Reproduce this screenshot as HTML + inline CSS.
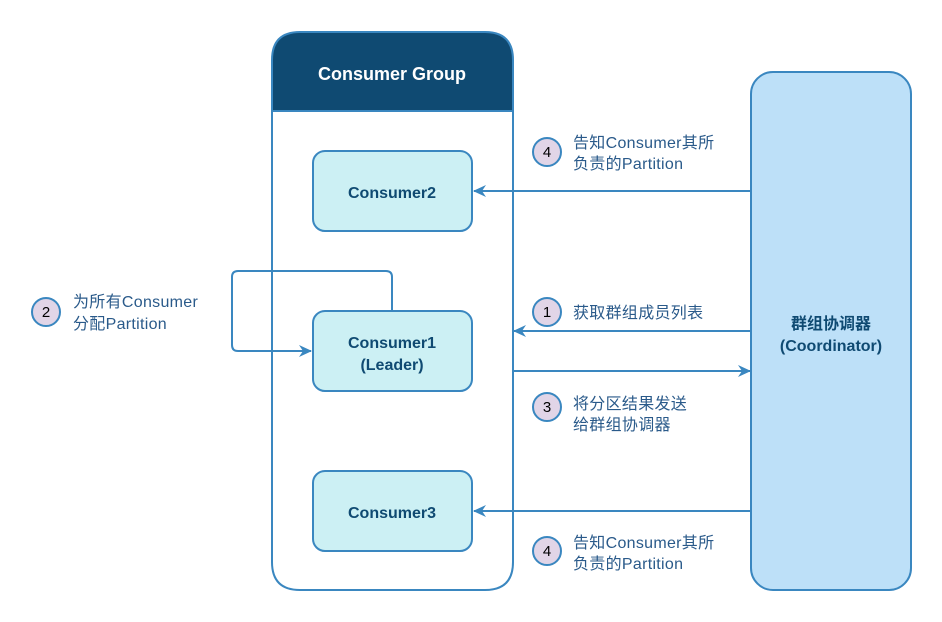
<!DOCTYPE html>
<html><head><meta charset="utf-8"><style>
html,body{margin:0;padding:0;background:#fff;}
svg{display:block;}
text{font-family:"Liberation Sans","Noto Sans CJK SC",sans-serif;}
.n{font-weight:bold;font-size:16px;fill:#0f4a72;text-anchor:middle;}
.l{font-size:16px;fill:#2a5a8a;letter-spacing:0.3px;}
.c{font-size:15px;fill:#000;text-anchor:middle;}
</style></head><body>
<svg width="942" height="622" viewBox="0 0 942 622">
<defs>
<marker id="a" markerWidth="14" markerHeight="12" refX="12" refY="6" orient="auto" markerUnits="userSpaceOnUse">
<path d="M0,0 L13,6 L0,12 L4,6 Z" fill="#3a87c0"/></marker>
</defs>
<path d="M272,111 V60 Q272,32 300,32 H485 Q513,32 513,60 V111 Z" fill="#0f4a72" stroke="#3a87c0" stroke-width="2"/>
<path d="M272,111 H513 V562 Q513,590 485,590 H300 Q272,590 272,562 Z" fill="#fff" stroke="#3a87c0" stroke-width="2"/>
<text x="392" y="80" class="n" style="fill:#fff;font-size:18px">Consumer Group</text>
<rect x="751" y="72" width="160" height="518" rx="22" fill="#bde0f8" stroke="#3a87c0" stroke-width="2"/>
<text x="831" y="329" class="n">群组协调器</text>
<text x="831" y="351" class="n">(Coordinator)</text>
<path d="M392,311 V277 Q392,271 386,271 H238 Q232,271 232,277 V345 Q232,351 238,351 H311" fill="none" stroke="#3a87c0" stroke-width="2" marker-end="url(#a)"/>
<line x1="272" y1="260" x2="272" y2="360" stroke="#3a87c0" stroke-width="2"/>
<rect x="313" y="151" width="159" height="80" rx="12" fill="#ccf0f4" stroke="#3a87c0" stroke-width="2"/>
<text x="392" y="198" class="n">Consumer2</text>
<rect x="313" y="311" width="159" height="80" rx="12" fill="#ccf0f4" stroke="#3a87c0" stroke-width="2"/>
<text x="392" y="348" class="n">Consumer1</text>
<text x="392" y="370" class="n">(Leader)</text>
<rect x="313" y="471" width="159" height="80" rx="12" fill="#ccf0f4" stroke="#3a87c0" stroke-width="2"/>
<text x="392" y="518" class="n">Consumer3</text>
<line x1="751" y1="191" x2="474" y2="191" stroke="#3a87c0" stroke-width="2" marker-end="url(#a)"/>
<line x1="751" y1="331" x2="514" y2="331" stroke="#3a87c0" stroke-width="2" marker-end="url(#a)"/>
<line x1="513" y1="371" x2="750" y2="371" stroke="#3a87c0" stroke-width="2" marker-end="url(#a)"/>
<line x1="751" y1="511" x2="474" y2="511" stroke="#3a87c0" stroke-width="2" marker-end="url(#a)"/>
<g fill="#e1d5e7" stroke="#3a87c0" stroke-width="2">
<circle cx="547" cy="152" r="14"/><circle cx="547" cy="312" r="14"/><circle cx="547" cy="407" r="14"/><circle cx="547" cy="551" r="14"/><circle cx="46" cy="312" r="14"/>
</g>
<text x="547" y="157" class="c">4</text><text x="547" y="317" class="c">1</text><text x="547" y="412" class="c">3</text><text x="547" y="556" class="c">4</text><text x="46" y="317" class="c">2</text>
<text x="573" y="148" class="l">告知Consumer其所</text>
<text x="573" y="169" class="l">负责的Partition</text>
<text x="573" y="318" class="l">获取群组成员列表</text>
<text x="573" y="409" class="l">将分区结果发送</text>
<text x="573" y="430" class="l">给群组协调器</text>
<text x="573" y="548" class="l">告知Consumer其所</text>
<text x="573" y="569" class="l">负责的Partition</text>
<text x="73" y="307" class="l">为所有Consumer</text>
<text x="73" y="329" class="l">分配Partition</text>
</svg>
</body></html>
